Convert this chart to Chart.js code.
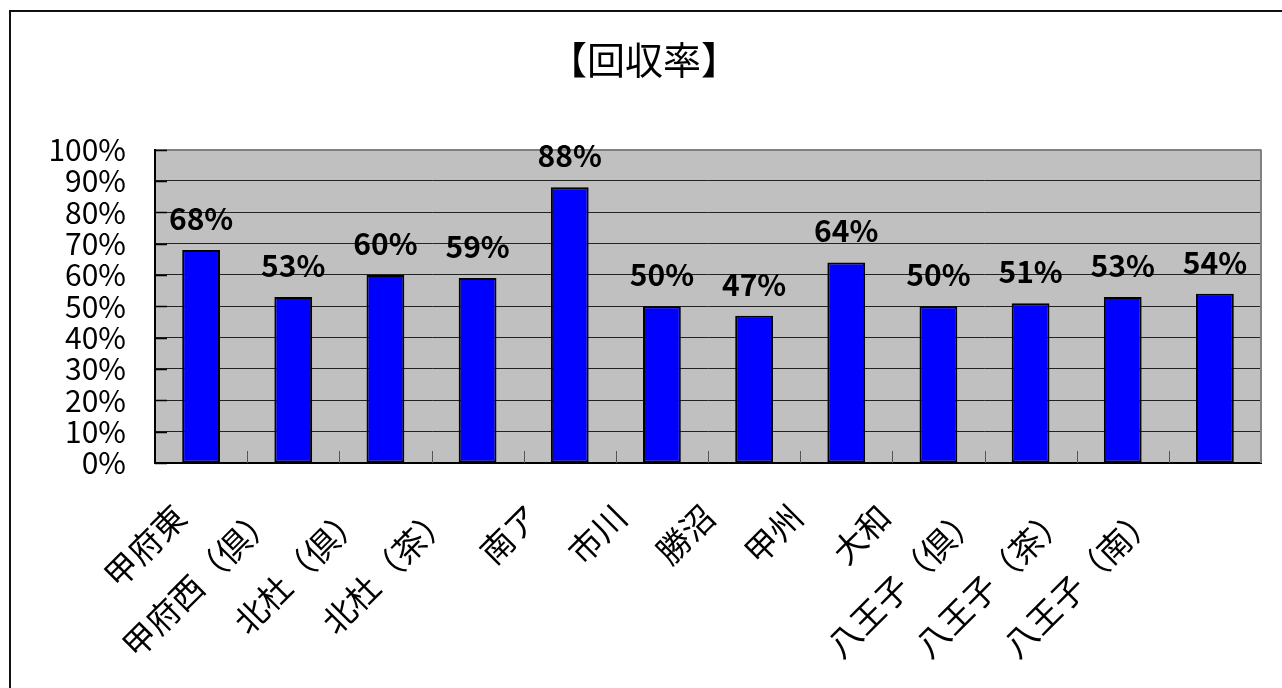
<!DOCTYPE html>
<html>
<head>
<meta charset="utf-8">
<script src="https://cdn.jsdelivr.net/npm/chart.js@4/dist/chart.umd.min.js"></script>
<style>
  html, body { margin: 0; padding: 0; background: #fff; }
  #wrap { position: relative; width: 1282px; height: 688px; }
</style>
</head>
<body>
<div id="wrap"><canvas id="c" width="1282" height="688"></canvas></div>
<script>
// 回収率 by store
const categories = ['甲府東', '甲府西（倶）', '北杜（倶）', '北杜（茶）', '南ア', '市川', '勝沼', '甲州', '大和', '八王子（倶）', '八王子（茶）', '八王子（南）'];
const recoveryRate = [68, 53, 60, 59, 88, 50, 47, 64, 50, 51, 53, 54];
const yTicks = [0, 10, 20, 30, 40, 50, 60, 70, 80, 90, 100];
const chartTitle = '【回収率】';

const FONT = "'Noto Sans CJK JP', 'Noto Sans', sans-serif";

// range of the axis that carries the rotated store names
const NAME_MIN = -0.2838;
const NAME_MAX = 12.270;

// Gray plot background, frame, inward tick marks and the outer border line
const frame = {
  id: 'frame',
  beforeDraw(chart) {
    const { ctx, chartArea: a } = chart;
    ctx.save();
    ctx.fillStyle = '#fff';
    ctx.fillRect(0, 0, chart.width, chart.height);
    ctx.fillStyle = '#C0C0C0';
    ctx.fillRect(a.left, a.top, a.right - a.left, a.bottom - a.top);
    // outer border (left and top)
    ctx.strokeStyle = '#111';
    ctx.lineWidth = 2;
    ctx.beginPath();
    ctx.moveTo(10, chart.height);
    ctx.lineTo(10, 11);
    ctx.lineTo(chart.width, 11);
    ctx.stroke();
    ctx.restore();
  },
  afterDraw(chart) {
    const { ctx, chartArea: a } = chart;
    const x = chart.scales.x, y = chart.scales.y;
    ctx.save();
    // right border of plot area
    ctx.strokeStyle = '#808080';
    ctx.lineWidth = 2;
    ctx.beginPath();
    ctx.moveTo(a.right, a.top);
    ctx.lineTo(a.right, a.bottom);
    ctx.stroke();
    // inward category ticks between bars
    ctx.strokeStyle = '#555';
    ctx.lineWidth = 1;
    ctx.beginPath();
    for (let i = 0; i < categories.length - 1; i++) {
      const px = Math.round((x.getPixelForTick(i) + x.getPixelForTick(i + 1)) / 2) + 0.5;
      ctx.moveTo(px, a.bottom);
      ctx.lineTo(px, a.bottom - 12);
    }
    ctx.stroke();
    // inward value ticks on the left axis
    ctx.strokeStyle = '#000';
    ctx.lineWidth = 1.5;
    ctx.beginPath();
    yTicks.forEach(v => {
      const py = Math.round(y.getPixelForValue(v)) + 0.5;
      ctx.moveTo(a.left, py);
      ctx.lineTo(a.left + 12, py);
    });
    ctx.stroke();
    ctx.restore();
  },
  afterDatasetsDraw(chart) {
    const { ctx } = chart;
    const meta = chart.getDatasetMeta(0);
    ctx.save();
    ctx.fillStyle = '#000';
    ctx.font = `bold 30px ${FONT}`;
    ctx.textAlign = 'center';
    ctx.textBaseline = 'alphabetic';
    meta.data.forEach((bar, i) => {
      ctx.fillText(recoveryRate[i] + '%', bar.x, bar.y - 20);
    });
    ctx.restore();
  }
};

new Chart(document.getElementById('c'), {
  type: 'bar',
  data: {
    labels: categories,
    datasets: [{
      label: '回収率',
      data: recoveryRate,
      xAxisID: 'x',
      yAxisID: 'y',
      backgroundColor: '#0000FF',
      borderColor: '#000',
      borderWidth: 2,
      borderSkipped: false,
      categoryPercentage: 1,
      barPercentage: 0.41
    }]
  },
  options: {
    responsive: false,
    animation: false,
    devicePixelRatio: 1,
    layout: { padding: { left: 27, right: 21, top: 0, bottom: 0 } },
    plugins: {
      legend: { display: false },
      tooltip: { enabled: false },
      title: {
        display: true,
        text: chartTitle,
        color: '#000',
        font: { family: FONT, size: 38, weight: 'normal', lineHeight: 1.2 },
        padding: { top: 37, bottom: 67 }
      }
    },
    scales: {
      x: {
        offset: true,
        weight: 0,
        grid: { display: true, drawOnChartArea: false, drawTicks: false },
        border: { display: true, color: '#000', width: 2 },
        ticks: { display: false },
        afterFit(scale) { scale.height = 0; }
      },
      // rotated store names, laid out on their own bottom axis
      names: {
        type: 'linear',
        position: 'bottom',
        weight: 1,
        offset: false,
        min: NAME_MIN,
        max: NAME_MAX,
        grid: { display: false },
        border: { display: false },
        afterBuildTicks(scale) {
          scale.ticks = categories.map((_, i) => ({ value: i }));
        },
        ticks: {
          color: '#000',
          autoSkip: false,
          minRotation: 45,
          maxRotation: 45,
          padding: 26,
          font: { family: FONT, size: 33 },
          callback: (v) => categories[v]
        },
        afterFit(scale) { scale.height = 688 - 463; }
      },
      y: {
        min: 0,
        max: 100,
        grid: {
          drawTicks: false,
          color: (ctx) => ctx.tick && ctx.tick.value === 100 ? '#808080' : '#222',
          lineWidth: (ctx) => ctx.tick && ctx.tick.value === 100 ? 2 : 1
        },
        border: { display: true, color: '#000', width: 2 },
        ticks: {
          stepSize: 10,
          autoSkip: false,
          color: '#000',
          padding: 29,
          font: { family: FONT, size: 30 },
          callback: (v) => v + '%'
        },
        afterFit(scale) { scale.width = 155 - 27; }
      }
    }
  },
  plugins: [frame]
});
</script>
</body>
</html>
